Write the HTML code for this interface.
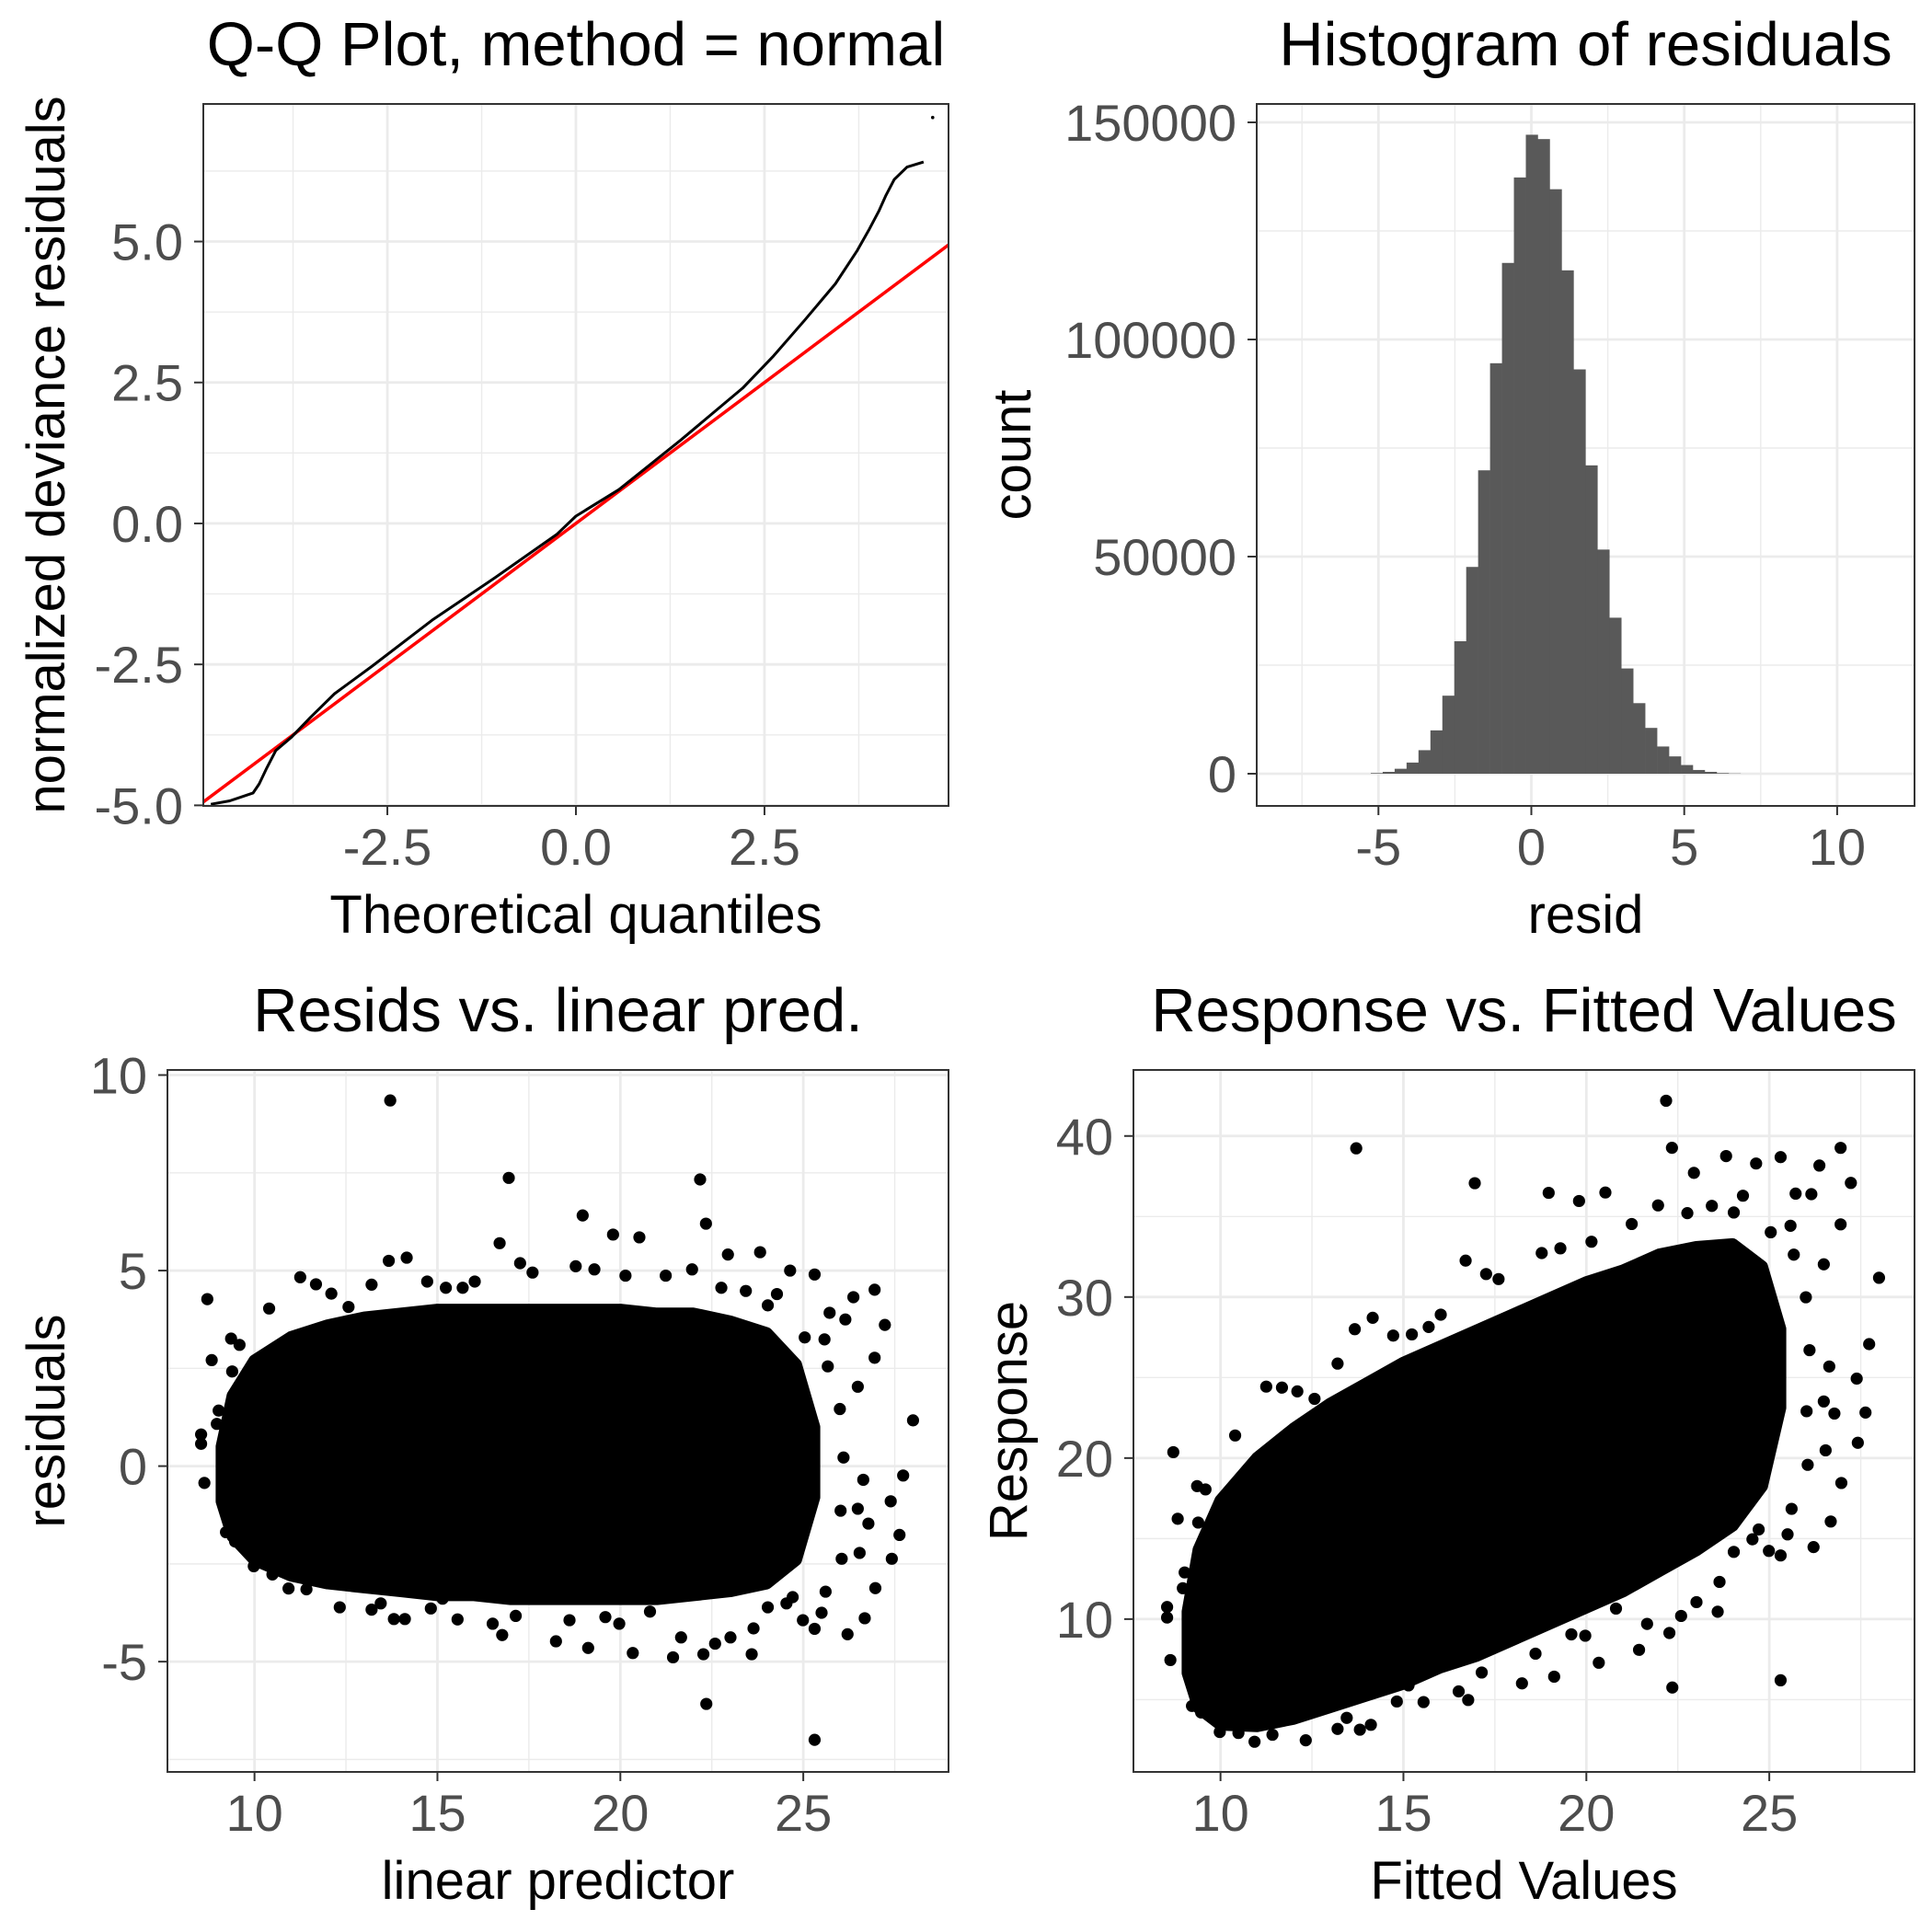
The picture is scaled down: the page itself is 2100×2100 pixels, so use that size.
<!DOCTYPE html>
<html><head><meta charset="utf-8">
<style>
html,body{margin:0;padding:0;background:#fff;}
svg{display:block;font-family:"Liberation Sans",Arial,sans-serif;}
</style></head>
<body>
<svg id="fig" width="2100" height="2100" viewBox="0 0 2100 2100" xmlns="http://www.w3.org/2000/svg">
<rect width="2100" height="2100" fill="#fff"/>
</svg>
<script>
// ---------- Q-Q data ----------
const qqTheo = [-4.84,-4.59,-4.28,-4.20,-4.10,-3.98,-3.77,-3.52,-3.20,-2.70,-1.89,-1.07,-0.25,0,0.57,1.39,2.21,2.62,3.03,3.44,3.73,3.89,4.02,4.11,4.22,4.39,4.61];
const qqSample = [-4.98,-4.92,-4.78,-4.62,-4.34,-4.03,-3.79,-3.44,-3.02,-2.53,-1.70,-0.96,-0.19,0.13,0.60,1.48,2.40,2.97,3.60,4.25,4.84,5.22,5.55,5.82,6.10,6.32,6.41];
const qqOutlierTheo = [4.73];
const qqOutlierSample = [7.2];
const qqXTicks = [-2.5,0,2.5];
const qqXTickLabels = ["-2.5","0.0","2.5"];
const qqYTicks = [-5,-2.5,0,2.5,5];
const qqYTickLabels = ["-5.0","-2.5","0.0","2.5","5.0"];

// ---------- Histogram data ----------
const histStart = -5.25;
const histBinWidth = 0.39;
const histCounts = [140,430,1140,2570,5420,9980,17970,30510,47620,69870,94530,117630,137310,147150,146150,134600,115920,93110,71010,51620,35930,24240,16250,10550,6270,3990,2000,860,430,140,50];
const histXTicks = [-5,0,5,10];
const histXTickLabels = ["-5","0","5","10"];
const histYTicks = [0,50000,100000,150000];
const histYTickLabels = ["0","50000","100000","150000"];

// ---------- Scatter data (linear predictor / fitted, residual) ----------
const fitted = [13.71,16.95,22.18,18.97,22.34,16.70,19.80,20.52,22.94,23.82,24.64,25.31,13.67,14.16,8.71,8.83,28.0,27.73,27.39,27.63,27.42,26.78,26.97,26.68,26.21,25.31,22.35,25.31,21.44,22.27,20.34,19.12,18.24,23.59,16.77,15.55,13.81,14.11,12.33,26.95,27.23,26.37,26.15,26.95,26.49,26.0,26.1,26.64,26.49,26.02,26.54,26.05,25.61,24.99,25.50,25.67,25.72,25.58,25.04,8.54,8.54,8.63,8.97,9.02,9.36,9.39,9.59,10.40,11.25,11.68,12.10,12.57,9.22,9.47,9.98,10.49,10.93,11.42,12.10,13.20,13.45,14.82,15.14,16.51,17.14,18.61,19.59,19.97,20.81,21.66,22.59,23.01,23.64,24.03,24.54,24.71,15.23,15.69,16.02,17.26,17.60,18.78,19.29,20.14,21.24,21.96,22.76,23.43,24.28,24.03,13.20,14.72];
const resid = [9.35,7.37,7.33,6.41,6.2,5.70,5.92,5.85,5.41,5.47,5.0,4.9,5.25,5.33,4.27,2.71,1.17,-0.24,-0.9,-1.76,-2.37,-1.47,-3.12,-3.89,-4.3,-4.16,-6.08,-7.0,-4.89,-4.81,-4.78,-4.65,-4.48,-4.81,-4.32,-3.92,-3.91,-3.91,-3.61,4.51,3.61,4.32,3.75,2.77,2.03,1.46,0.22,-0.35,-1.09,-1.14,-2.22,-2.37,-3.21,-3.94,-3.75,2.55,3.92,3.24,3.29,0.81,0.57,-0.43,1.08,1.42,3.26,2.42,3.10,4.03,4.83,4.65,4.41,4.07,-1.69,-1.93,-2.56,-2.77,-3.13,-3.15,-2.88,-3.67,-3.51,-3.64,-3.39,-4.03,-3.83,-3.94,-3.86,-4.03,-3.72,-4.38,-4.54,-4.38,-4.15,-3.61,-3.51,-3.35,4.56,4.56,4.72,5.19,4.95,5.11,5.03,4.87,4.87,5.03,4.56,4.48,4.40,4.11,4.64,4.72];
// dense core envelope
const coreX = [9.1,9.4,10,11,12,13,14,15,16,17,18,19,20,21,22,23,24,24.8,25.3];
const coreUpper = [0.5,1.8,2.7,3.3,3.6,3.8,3.9,4.0,4.0,4.0,4.0,4.0,4.0,3.9,3.9,3.7,3.4,2.6,1.0];
const coreLower = [-0.9,-1.8,-2.4,-2.8,-3.0,-3.1,-3.2,-3.3,-3.3,-3.4,-3.4,-3.4,-3.4,-3.4,-3.3,-3.2,-3.0,-2.4,-0.8];
const residScale = 2.73; // response = fitted + residScale * resid
const scatXTicks = [10,15,20,25];
const scatXTickLabels = ["10","15","20","25"];
const rvlYTicks = [-5,0,5,10];
const rvlYTickLabels = ["-5","0","5","10"];
const rfYTicks = [10,20,30,40];
const rfYTickLabels = ["10","20","30","40"];

const NS = "http://www.w3.org/2000/svg";
const svg = document.getElementById('fig');
function mk(tag, attrs, parent, txt){
  const e = document.createElementNS(NS, tag);
  for (const k in attrs) e.setAttribute(k, attrs[k]);
  if (txt !== undefined) e.textContent = txt;
  (parent || svg).appendChild(e);
  return e;
}
function lin(d0,d1,r0,r1){ return v => r0 + (v-d0)/(d1-d0)*(r1-r0); }

function panel(cfg){
  const g = mk('g', {});
  
  
  const {L,R,T,B} = cfg;
  const sx = lin(cfg.xd[0], cfg.xd[1], L, R);
  const sy = lin(cfg.yd[0], cfg.yd[1], B, T);
  mk('rect', {x:L,y:T,width:R-L,height:B-T,fill:'#fff'}, g);
  const grid = mk('g', {}, g);
  
  
  cfg.xMinor.forEach(v => { const x=sx(v); if(x>L&&x<R) mk('line',{x1:x,x2:x,y1:T,y2:B,stroke:'#EBEBEB','stroke-width':1.4},grid); });
  cfg.yMinor.forEach(v => { const y=sy(v); if(y>T&&y<B) mk('line',{x1:L,x2:R,y1:y,y2:y,stroke:'#EBEBEB','stroke-width':1.4},grid); });
  cfg.xTicks.forEach(v => { const x=sx(v); mk('line',{x1:x,x2:x,y1:T,y2:B,stroke:'#EBEBEB','stroke-width':2.8},grid); });
  cfg.yTicks.forEach(v => { const y=sy(v); mk('line',{x1:L,x2:R,y1:y,y2:y,stroke:'#EBEBEB','stroke-width':2.8},grid); });
  const clipId = 'clip-' + cfg.name;
  const cp = mk('clipPath', {id:clipId}, g);
  mk('rect', {x:L,y:T,width:R-L,height:B-T}, cp);
  const plot = mk('g', {'clip-path':'url(#'+clipId+')'}, g);
  
  
  cfg.draw(plot, sx, sy);
  mk('rect', {x:L,y:T,width:R-L,height:B-T,fill:'none',stroke:'#333333','stroke-width':2}, g);
  const xa = mk('g', {}, g);
  
  
  cfg.xTicks.forEach((v,i) => {
    const x = sx(v);
    mk('line',{x1:x,x2:x,y1:B,y2:B+10,stroke:'#333333','stroke-width':2},xa);
    const t = mk('text',{x:x,y:B+64,'text-anchor':'middle','font-size':56,fill:'#4D4D4D'},xa,cfg.xLabels[i]);
    
    
  });
  const ya = mk('g', {}, g);
  
  
  cfg.yTicks.forEach((v,i) => {
    const y = sy(v);
    mk('line',{x1:L-10,x2:L,y1:y,y2:y,stroke:'#333333','stroke-width':2},ya);
    const t = mk('text',{x:L-22,y:y+20,'text-anchor':'end','font-size':56,fill:'#4D4D4D'},ya,cfg.yLabels[i]);
    
    
  });
  const cx = (L+R)/2;
  const title = mk('text',{x:cx,y:T-42,'text-anchor':'middle','font-size':67,fill:'#000'},g,cfg.title);
  
  
  const xt = mk('text',{x:cx,y:B+138,'text-anchor':'middle','font-size':58,fill:'#000'},g,cfg.xTitle);
  
  
  const cy = (T+B)/2;
  const yt = mk('text',{x:0,y:0,'text-anchor':'middle','font-size':58,fill:'#000',transform:'translate('+(cfg.yTitleX+20)+','+cy+') rotate(-90)'},g,cfg.yTitle);
  
  
}

// ---- Q-Q panel
panel({name:'qq-plot', L:221,R:1031,T:113,B:876, xd:[-4.94,4.94], yd:[-5.01,7.44],
  xTicks:qqXTicks, xLabels:qqXTickLabels, yTicks:qqYTicks, yLabels:qqYTickLabels,
  xMinor:[-3.75,-1.25,1.25,3.75], yMinor:[-3.75,-1.25,1.25,3.75,6.25],
  title:'Q-Q Plot, method = normal', xTitle:'Theoretical quantiles', yTitle:'normalized deviance residuals', yTitleX:50,
  draw:(g,sx,sy)=>{
    const ref = mk('line',{x1:sx(-4.94),y1:sy(-4.94),x2:sx(4.94),y2:sy(4.94),stroke:'#FF0000','stroke-width':3.5},g);
    
    
    const pts = qqTheo.map((q,i)=>sx(q).toFixed(1)+','+sy(qqSample[i]).toFixed(1)).join(' ');
    const pl = mk('polyline',{points:pts,fill:'none',stroke:'#000','stroke-width':3,'stroke-linejoin':'round'},g);
    
    
    qqOutlierTheo.forEach((q,i)=>{
      const c = mk('circle',{cx:sx(q),cy:sy(qqOutlierSample[i]),r:1.8,fill:'#000'},g);
      
      
    });
  }});

// ---- Histogram panel
panel({name:'histogram', L:1366,R:2081,T:113,B:876, xd:[-8.98,12.53], yd:[-7415,154237],
  xTicks:histXTicks, xLabels:histXTickLabels, yTicks:histYTicks, yLabels:histYTickLabels,
  xMinor:[-7.5,-2.5,2.5,7.5], yMinor:[25000,75000,125000],
  title:'Histogram of residuals', xTitle:'resid', yTitle:'count', yTitleX:1100,
  draw:(g,sx,sy)=>{
    histCounts.forEach((c,i)=>{
      const x0 = sx(histStart + i*histBinWidth), x1 = sx(histStart + (i+1)*histBinWidth);
      const r = mk('rect',{x:x0,y:sy(c),width:x1-x0+0.3,height:sy(0)-sy(c),fill:'#595959'},g);
      
      
    });
  }});

function drawScatter(g, sx, sy, yFn){
  let poly = [];
  coreX.forEach((x,i)=>poly.push(sx(x).toFixed(1)+','+sy(yFn(x,coreUpper[i])).toFixed(1)));
  for (let i=coreX.length-1;i>=0;i--) poly.push(sx(coreX[i]).toFixed(1)+','+sy(yFn(coreX[i],coreLower[i])).toFixed(1));
  const core = mk('polygon',{points:poly.join(' '),fill:'#000',stroke:'#000','stroke-width':13,'stroke-linejoin':'round'},g);
  
  
  fitted.forEach((x,i)=>{
    const c = mk('circle',{cx:sx(x),cy:sy(yFn(x,resid[i])),r:6.6,fill:'#000'},g);
    
    
  });
}

// ---- Resids vs linear pred
panel({name:'resids-vs-linear-pred', L:182,R:1031,T:1163,B:1926, xd:[7.62,28.97], yd:[-7.82,10.13],
  xTicks:scatXTicks, xLabels:scatXTickLabels, yTicks:rvlYTicks, yLabels:rvlYTickLabels,
  xMinor:[12.5,17.5,22.5,27.5], yMinor:[-7.5,-2.5,2.5,7.5],
  title:'Resids vs. linear pred.', xTitle:'linear predictor', yTitle:'residuals', yTitleX:50,
  draw:(g,sx,sy)=>drawScatter(g,sx,sy,(x,r)=>r)});

// ---- Response vs fitted
panel({name:'response-vs-fitted', L:1232,R:2081,T:1163,B:1926, xd:[7.62,28.97], yd:[0.51,44.1],
  xTicks:scatXTicks, xLabels:scatXTickLabels, yTicks:rfYTicks, yLabels:rfYTickLabels,
  xMinor:[12.5,17.5,22.5,27.5], yMinor:[5,15,25,35],
  title:'Response vs. Fitted Values', xTitle:'Fitted Values', yTitle:'Response', yTitleX:1096,
  draw:(g,sx,sy)=>drawScatter(g,sx,sy,(x,r)=>x+residScale*r)});
</script>
</body></html>
